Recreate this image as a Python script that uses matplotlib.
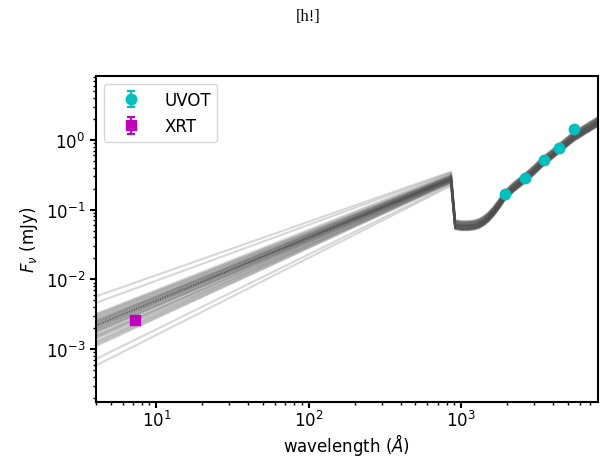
"""SED of the source: UVOT + XRT photometry with posterior model draws."""

import matplotlib

matplotlib.use("Agg")

import matplotlib.pyplot as plt
import numpy as np

# photometry
uvot_wave = [1930.0, 2600.0, 3465.0, 4392.0, 5468.0]
uvot_flux = [0.170, 0.282, 0.516, 0.776, 1.44]
uvot_err = [0.006, 0.008, 0.012, 0.018, 0.035]

xrt_wave = [7.2]
xrt_flux = [2.6e-3]
xrt_err = [1.5e-4]

# model draws: power law from 4 A up to the Lyman edge, then a UV/optical template
pl_wave = [4.0, 856.0]
pl_left = [5.7e-3, 4.6e-3, 3.2e-3, 3.1e-3, 3.0e-3, 2.9e-3, 2.8e-3, 2.7e-3, 2.6e-3,
           2.55e-3, 2.5e-3, 2.45e-3, 2.4e-3, 2.35e-3, 2.3e-3, 2.25e-3, 2.2e-3, 2.15e-3,
           2.1e-3, 2.05e-3, 2.0e-3, 1.95e-3, 1.9e-3, 1.85e-3, 1.8e-3, 1.75e-3, 1.7e-3,
           1.6e-3, 1.55e-3, 1.5e-3, 1.45e-3, 1.4e-3, 1.3e-3, 1.25e-3, 1.2e-3, 1.15e-3,
           1.1e-3, 7.2e-4, 5.8e-4]
pl_peak = [0.35, 0.34, 0.33, 0.30, 0.32, 0.29, 0.31, 0.28, 0.30, 0.27, 0.29, 0.31,
           0.28, 0.26, 0.30, 0.27, 0.28, 0.29, 0.27, 0.26, 0.28, 0.30, 0.27, 0.25,
           0.28, 0.26, 0.29, 0.27, 0.25, 0.28, 0.26, 0.24, 0.27, 0.25, 0.26, 0.24,
           0.25, 0.23, 0.22]
uv_scale = [1.08, 1.15, 1.03, 0.93, 1.12, 0.90, 1.00, 1.06, 0.97, 0.88, 1.10, 1.16,
            0.95, 0.89, 1.04, 1.00, 0.98, 1.11, 0.92, 0.87, 1.02, 1.14, 0.96, 0.91,
            1.07, 0.95, 1.09, 1.01, 0.89, 1.03, 0.94, 0.86, 1.01, 0.92, 0.99, 0.88,
            0.96, 0.91, 0.87]

uv_wave = [912.0, 1000.0, 1100.0, 1200.0, 1300.0, 1400.0, 1500.0, 1630.0, 1780.0,
           1930.0, 2200.0, 2600.0, 3000.0, 3465.0, 4000.0, 4392.0, 5000.0, 5468.0,
           6500.0, 7900.0]
uv_flux = [0.061, 0.059, 0.059, 0.060, 0.063, 0.069, 0.078, 0.095, 0.123, 0.16,
           0.21, 0.28, 0.37, 0.50, 0.64, 0.76, 0.96, 1.12, 1.42, 1.84]

best_left = 2.16e-3
best_peak = 0.28

fig = plt.figure(figsize=(6.06, 4.6), dpi=100)
ax = fig.add_axes([0.158, 0.124, 0.829, 0.709])

wave = np.array(pl_wave + uv_wave)
for left, peak, s in zip(pl_left, pl_peak, uv_scale):
    flux = np.concatenate([[left, peak], np.array(uv_flux) * s])
    ax.plot(wave, flux, color="0.3", alpha=0.22, lw=1.5, zorder=2)

best = np.concatenate([[best_left, best_peak], uv_flux])
ax.plot(wave, best, color="k", ls=":", lw=0.7, zorder=1)

ax.errorbar(uvot_wave, uvot_flux, yerr=uvot_err, fmt="o", color="c", ms=7.5,
            capsize=3, elinewidth=1.5, capthick=1.5, label="UVOT", zorder=4)
ax.errorbar(xrt_wave, xrt_flux, yerr=xrt_err, fmt="s", color="m", ms=7.5,
            capsize=3, elinewidth=1.5, capthick=1.5, label="XRT", zorder=4)

ax.set_xscale("log")
ax.set_yscale("log")
ax.set_xlim(4.0, 7900.0)
ax.set_ylim(1.75e-4, 8.3)

for sp in ax.spines.values():
    sp.set_linewidth(1.5)
ax.tick_params(which="major", length=4, width=1.5, labelsize=12)
ax.tick_params(which="minor", length=2.5, width=1.0)
ax.tick_params(axis="x", which="major", pad=2)

ax.set_xlabel(r"wavelength ($\AA$)", fontsize=12, labelpad=0.5)
ax.set_ylabel(r"$F_\nu$ (mJy)", fontsize=12)
ax.legend(loc="upper left", fontsize=12, handlelength=2.4)

fig.text(0.508, 0.962, "[h!]", ha="center", va="center",
         family="Liberation Serif", fontsize=12)

fig.savefig("out.png", dpi=100)
